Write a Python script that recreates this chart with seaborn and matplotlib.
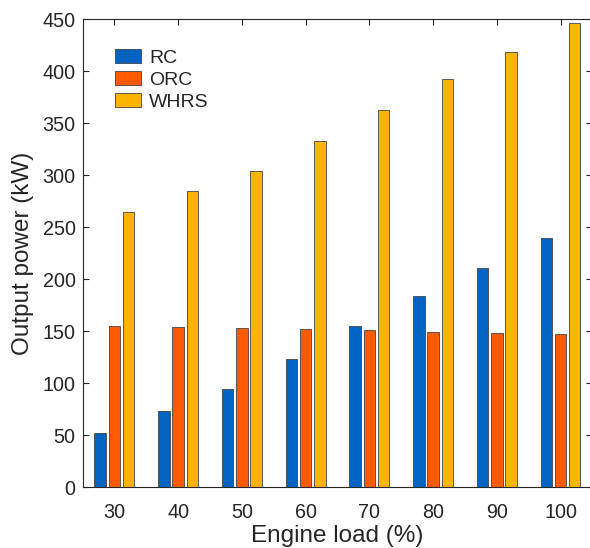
import matplotlib
matplotlib.use("Agg")
import matplotlib.pyplot as plt
import seaborn as sns
import pandas as pd

# Engine load levels and output power of each cycle (kW)
loads = [30, 40, 50, 60, 70, 80, 90, 100]
rc_power = [52, 73, 94, 123, 155, 184, 211, 240]
orc_power = [155, 154, 153, 152, 151, 149.5, 148, 147]
whrs_power = [265, 285, 304, 333, 363, 392, 418, 446]

series_names = ["RC", "ORC", "WHRS"]
series_colors = ["#0063C1", "#FF5A00", "#FFB500"]

df = pd.DataFrame({
    "load": loads * 3,
    "power": rc_power + orc_power + whrs_power,
    "system": [s for s in series_names for _ in loads],
})

sns.set_style("white")
plt.rcParams["font.family"] = ["Liberation Sans", "DejaVu Sans"]

fig = plt.figure(figsize=(5.9, 5.48), dpi=100)
ax = fig.add_axes([0.1400, 0.1108, 0.8640, 0.8545])

sns.barplot(data=df, x="load", y="power", hue="system",
            hue_order=series_names, palette=series_colors,
            width=0.67, gap=0.19, edgecolor="#444444", linewidth=0.6,
            saturation=1, ax=ax)

ax.set_xlim(-0.5, 7.5)
ax.set_ylim(0, 450)
ax.set_yticks(range(0, 451, 50))
ax.set_xticks(range(len(loads)))
ax.set_xticklabels([str(v) for v in loads])

ax.set_xlabel("Engine load (%)", fontsize=17.5, color="#262626", labelpad=2.5)
ax.set_ylabel("Output power (kW)", fontsize=17.5, color="#262626", labelpad=6.5)

for s in ax.spines.values():
    s.set_visible(True)
    s.set_color("#262626")
    s.set_linewidth(0.8)
ax.tick_params(direction="in", length=4, width=0.8, colors="#262626",
               labelsize=14.2, top=True, right=True, bottom=True, left=True,
               labelcolor="#262626")
ax.tick_params(axis="x", pad=11)
ax.tick_params(axis="y", pad=5)

leg = ax.legend(loc="upper left", bbox_to_anchor=(0.064, 0.935), frameon=False,
                fontsize=14, handlelength=1.34, handleheight=0.67,
                handletextpad=0.4, labelspacing=0.23, borderaxespad=0,
                borderpad=0)
for t in leg.get_texts():
    t.set_color("#262626")

fig.savefig("out.png", dpi=100)
